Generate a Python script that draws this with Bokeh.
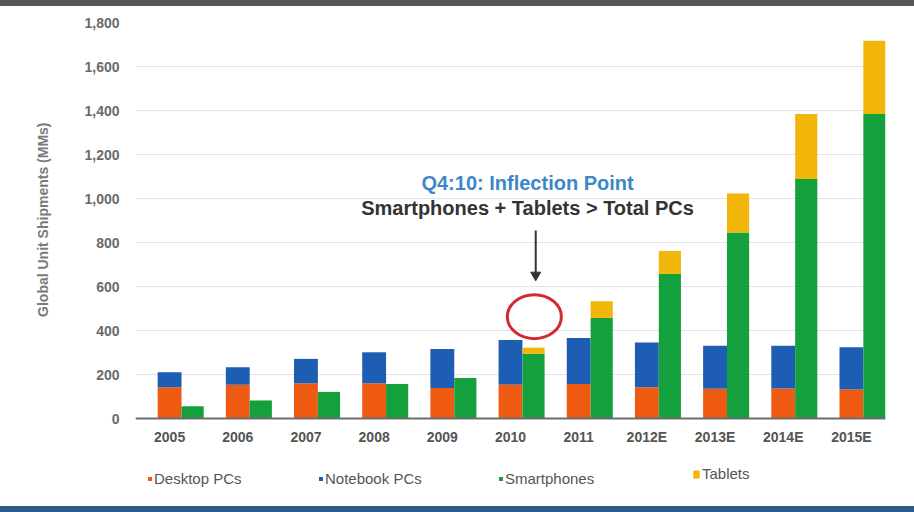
from bokeh.plotting import figure
from bokeh.models import (ColumnDataSource, FactorRange, Range1d, Legend, LegendItem,
                          NumeralTickFormatter, FixedTicker, Span, Title, Div)
from bokeh.layouts import column
from bokeh.transform import dodge
from bokeh.core.properties import value
from bokeh.embed import file_html
from bokeh.resources import INLINE

# ---- data ----
years = ["2005", "2006", "2007", "2008", "2009", "2010", "2011", "2012E", "2013E", "2014E", "2015E"]
desktop_pcs = [142, 153, 160, 160, 139, 155, 157, 142, 135, 136, 132]
notebook_pcs = [68, 80, 111, 141, 177, 202, 209, 204, 196, 195, 192]
smartphones = [56, 82, 121, 157, 184, 294, 457, 657, 846, 1089, 1384]
tablets = [0, 0, 0, 0, 0, 28, 76, 104, 177, 295, 333]
y_ticks = [0, 200, 400, 600, 800, 1000, 1200, 1400, 1600, 1800]
series_names = ["Desktop PCs", "Notebook PCs", "Smartphones", "Tablets"]
y_title = "Global Unit Shipments (MMs)"
note_title = "Q4:10: Inflection Point"
note_text = "Smartphones + Tablets > Total PCs"
note_year = "2010"

FONT = "Liberation Sans"
C_DESK = "#EE5A12"
C_NOTE = "#1E5DB4"
C_SMART = "#13A03D"
C_TAB = "#F2B60A"

src = ColumnDataSource(dict(year=years, desktop=desktop_pcs, notebook=notebook_pcs,
                            smart=smartphones, tab=tablets))

# frame runs down past the baseline so the legend row sits inside it
p = figure(x_range=FactorRange(factors=years, range_padding=0),
           y_range=Range1d(-400, 1800),
           width=914, height=500, output_backend="svg", toolbar_location=None,
           min_border_left=135, min_border_right=29, min_border_top=16, min_border_bottom=0,
           background_fill_color="#ffffff", border_fill_color="#ffffff")
p.outline_line_color = None
p.xaxis.visible = False

pc_r = p.vbar_stack(["desktop", "notebook"], x=dodge("year", 0, range=p.x_range), width=0.35,
                    fill_color=[C_DESK, C_NOTE], line_color=None, source=src)
mob_r = p.vbar_stack(["smart", "tab"], x=dodge("year", 0.3375, range=p.x_range), width=0.325,
                     fill_color=[C_SMART, C_TAB], line_color=None, source=src)

# grid / baseline
p.xgrid.grid_line_color = None
p.ygrid.ticker = FixedTicker(ticks=y_ticks)
p.ygrid.grid_line_color = "#e3e3e3"
p.ygrid.grid_line_width = 1
p.add_layout(Span(location=0, dimension="width", line_color="#6d6d6d", line_width=2))

# y axis
p.yaxis.ticker = FixedTicker(ticks=y_ticks)
p.yaxis.formatter = NumeralTickFormatter(format="0,0")
p.yaxis.axis_line_color = None
p.yaxis.major_tick_line_color = None
p.yaxis.minor_tick_line_color = None
p.yaxis.major_label_standoff = 10
p.yaxis.major_label_text_font = FONT
p.yaxis.major_label_text_font_size = "14px"
p.yaxis.major_label_text_font_style = "bold"
p.yaxis.major_label_text_color = "#6a6a6a"
p.add_layout(Title(text=y_title, align="right", offset=100, vertical_align="middle",
                   standoff=60, text_font=FONT, text_font_size="14px",
                   text_font_style="bold", text_color="#7a7a7a"), "left")

# category labels under the baseline
p.text(x="year", y=-86, text="year", source=src,
       text_font=value(FONT), text_font_size="14px", text_font_style="bold",
       text_color="#555555", text_align="center", text_baseline="middle")

# legend row (one legend per entry, at the reference spacing)
renderers = [pc_r[0], pc_r[1], mob_r[0], mob_r[1]]
leg_x = [12, 183, 363, 557]
leg_y = [19, 19, 19, 24]
glyph_w = [5, 5, 5, 8]
glyph_h = [5, 5, 5, 10]
for name, r, lx, ly, gw, gh in zip(series_names, renderers, leg_x, leg_y, glyph_w, glyph_h):
    lg = Legend(items=[LegendItem(label=name, renderers=[r])], location=(lx, ly),
                orientation="horizontal", border_line_color=None, background_fill_alpha=0,
                padding=0, margin=0, spacing=0, glyph_width=gw, glyph_height=gh,
                label_height=10, label_standoff=2,
                label_text_font=FONT, label_text_font_size="15px",
                label_text_color="#555555")
    p.add_layout(lg)

# annotation
ann = ColumnDataSource(dict(x=[note_year], y1=[1072], y2=[958], t1=[note_title], t2=[note_text],
                            ay0=[854], ay1=[660], ah=[652], ey=[463]))
p.text(x=dodge("x", 0.25, range=p.x_range), y="y1", text="t1", source=ann,
       text_font=value(FONT), text_font_size="20px", text_font_style="bold",
       text_color="#3C87C9", text_align="center", text_baseline="middle")
p.text(x=dodge("x", 0.25, range=p.x_range), y="y2", text="t2", source=ann,
       text_font=value(FONT), text_font_size="20px", text_font_style="bold",
       text_color="#333333", text_align="center", text_baseline="middle")
p.segment(x0=dodge("x", 0.37, range=p.x_range), y0="ay0",
          x1=dodge("x", 0.37, range=p.x_range), y1="ay1",
          line_color="#333333", line_width=2, source=ann)
p.scatter(x=dodge("x", 0.37, range=p.x_range), y="ah", marker="inverted_triangle",
          size=10, color="#333333", source=ann)
p.ellipse(x=dodge("x", 0.35, range=p.x_range), y="ey", width=54, height=44,
          width_units="screen", height_units="screen",
          fill_color=None, line_color="#D22A30", line_width=3, source=ann)

top_band = Div(text="", width=914, height=6, margin=0, styles={"background-color": "#575757"})
bottom_band = Div(text="", width=914, height=6, margin=0, styles={"background-color": "#2B5C8C"})
page = column(top_band, p, bottom_band, spacing=0, margin=0)

open("out.html", "w").write(file_html(page, INLINE))
